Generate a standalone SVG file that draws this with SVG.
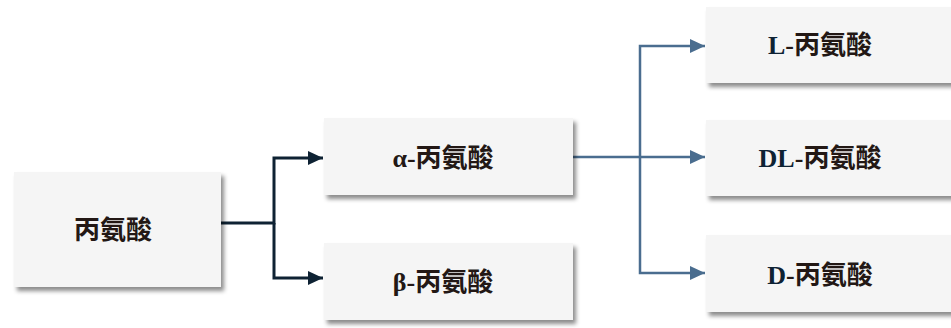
<svg xmlns="http://www.w3.org/2000/svg" width="951" height="328" viewBox="0 0 951 328">
<style>
.box{fill:#f5f5f5;filter:url(#sh)}
.t{font-family:"Liberation Serif","Noto Sans CJK SC",serif;font-weight:bold;font-size:26px;fill:#231815;text-anchor:middle;dominant-baseline:central}
.lat{fill:#0e2233}
.c1{fill:none;stroke:#0e2233;stroke-width:3}
.c2{fill:none;stroke:#4a6d8f;stroke-width:2.5}
</style>
<defs>
<filter id="sh" x="-10%" y="-20%" width="130%" height="150%">
<feDropShadow dx="3" dy="4" stdDeviation="2" flood-color="#000" flood-opacity="0.45"/>
</filter>
<marker id="a1" markerUnits="userSpaceOnUse" markerWidth="16" markerHeight="16" refX="15" refY="8" orient="auto"><path d="M0,1 L15,8 L0,15 Z" fill="#0e2233"/></marker>
<marker id="a2" markerUnits="userSpaceOnUse" markerWidth="16" markerHeight="16" refX="15" refY="8" orient="auto"><path d="M0,1 L15,8 L0,15 Z" fill="#4a6d8f"/></marker>
</defs>
<rect width="951" height="328" fill="#fff"/>
<g id="connectors">
<path class="c1" d="M221,223 H274 V158 H323" marker-end="url(#a1)"/>
<path class="c1" d="M274,223 V278 H323" marker-end="url(#a1)"/>
<path class="c2" d="M573,157 H705" marker-end="url(#a2)"/>
<path class="c2" d="M640,157 V46 H705" marker-end="url(#a2)"/>
<path class="c2" d="M640,157 V273 H705" marker-end="url(#a2)"/>
</g>
<g id="n-root"><rect class="box" x="14" y="172" width="207" height="115"/><text class="t" x="113" y="230">丙氨酸</text></g>
<g id="n-alpha"><rect class="box" x="324" y="118" width="249" height="77"/><text class="t" x="443" y="158">α-丙氨酸</text></g>
<g id="n-beta"><rect class="box" x="324" y="243" width="249" height="77"/><text class="t" x="443" y="282">β-丙氨酸</text></g>
<g id="n-L"><rect class="box" x="706" y="7" width="260" height="76"/><text class="t" x="820" y="45"><tspan class="lat">L</tspan>-丙氨酸</text></g>
<g id="n-DL"><rect class="box" x="706" y="120" width="260" height="76"/><text class="t" x="820" y="158"><tspan class="lat">DL</tspan>-丙氨酸</text></g>
<g id="n-D"><rect class="box" x="706" y="235" width="260" height="77"/><text class="t" x="820" y="275"><tspan class="lat">D</tspan>-丙氨酸</text></g>
</svg>
